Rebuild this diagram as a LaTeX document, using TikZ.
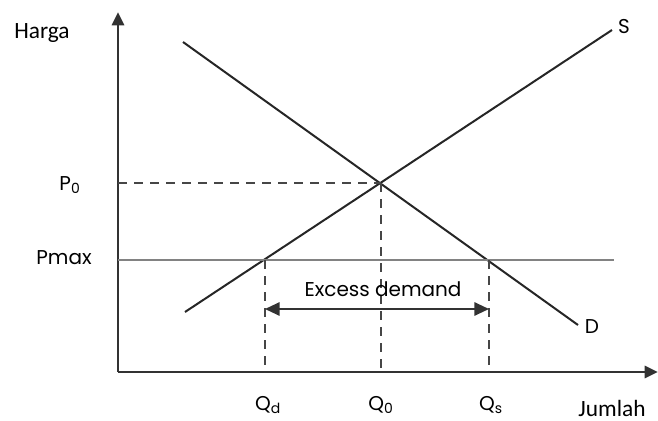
\documentclass[tikz,border=0pt]{standalone}
\usepackage{fontspec}
\setmainfont{Carlito}
\newfontfamily\geofont{Poppins}
\usetikzlibrary{arrows.meta, calc}
\definecolor{axisgray}{RGB}{50,50,50}
\definecolor{pmaxgray}{RGB}{130,130,130}
\definecolor{dashgray}{RGB}{70,70,70}
\tikzset{
  axis/.style={-{Triangle[length=10pt, width=9pt]}, line width=2.2pt, color=axisgray},
  curve/.style={line width=1.5pt, color=black!85},
  guide/.style={dashed, dash pattern=on 7pt off 5pt, line width=1.5pt, color=dashgray},
  ceiling/.style={line width=2.2pt, color=pmaxgray},
  gap/.style={{Triangle[length=11pt, width=10pt]}-{Triangle[length=11pt, width=10pt]}, line width=1.5pt, color=axisgray},
  lbl/.style={font=\geofont\fontsize{15}{17}\selectfont, inner sep=0pt},
  axlbl/.style={font=\fontsize{17.5}{20}\selectfont, inner sep=0pt}
}

\begin{document}
\begin{tikzpicture}[x=0.75pt, y=-0.75pt]
  \useasboundingbox (0,0) rectangle (658,421);
  % axes
  \coordinate (o) at (118,372);
  \coordinate (ytop) at (118,12);
  \coordinate (xend) at (658,372);
  \draw[axis] (o) -- (ytop);
  \draw[axis] (o) -- (xend);
  \node[axlbl] (harga) at (42,33) {Harga};
  \node[axlbl] (jumlah) at (612,408) {Jumlah};

  % supply and demand
  \coordinate (s0) at (185,312);
  \coordinate (s1) at (612,30);
  \coordinate (d0) at (183,42);
  \coordinate (d1) at (578,325);
  \draw[curve] (s0) -- (s1);
  \draw[curve] (d0) -- (d1);
  \node[lbl] (slbl) at (624,27) {S};
  \node[lbl] (dlbl) at (592,327) {D};

  % equilibrium
  \coordinate (eq) at (381,183);
  \coordinate (p0) at (118,183);
  \coordinate (q0) at (381,372);
  \draw[guide] (p0) -- (eq);
  \draw[guide] (eq) -- (q0);

  % price ceiling
  \coordinate (pm) at (118,260);
  \coordinate (pmend) at (614,260);
  \coordinate (qdtop) at (265,260);
  \coordinate (qstop) at (489,260);
  \coordinate (qd) at (265,372);
  \coordinate (qs) at (489,372);
  \draw[ceiling] (pm) -- (pmend);
  \draw[guide] (qdtop) -- (qd);
  \draw[guide] (qstop) -- (qs);
  \coordinate (exl) at (265,309);
  \coordinate (exr) at (489,309);
  \draw[gap] (exl) -- (exr);
  \node[lbl] (excess) at (383,289) {Excess demand};

  \node[lbl] (p0lbl) at (70,185) {P\textsubscript{0}};
  \node[lbl] (pmlbl) at (64,258) {Pmax};
  \node[lbl] (qdlbl) at (268,405) {Q\textsubscript{d}};
  \node[lbl] (q0lbl) at (381,405) {Q\textsubscript{0}};
  \node[lbl] (qslbl) at (491,405) {Q\textsubscript{s}};
\end{tikzpicture}
\end{document}
